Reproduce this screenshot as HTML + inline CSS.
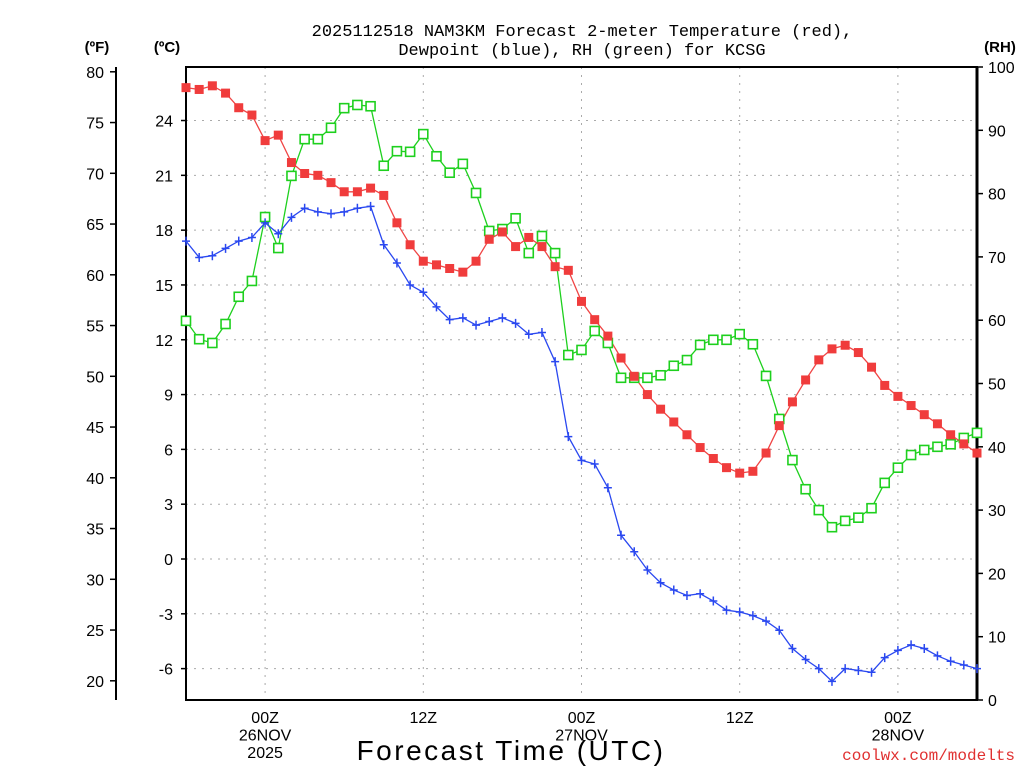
<!DOCTYPE html>
<html><head><meta charset="utf-8"><style>
body{margin:0;background:#fff;width:1024px;height:768px;overflow:hidden}
svg{display:block;font-family:"Liberation Sans",sans-serif}
</style></head><body>
<svg id="chart" width="1024" height="768" viewBox="0 0 1024 768">
<text x="582" y="36" font-size="17" text-anchor="middle" font-family="Liberation Mono, monospace">2025112518 NAM3KM Forecast 2-meter Temperature (red),</text>
<text x="582" y="55" font-size="17" text-anchor="middle" font-family="Liberation Mono, monospace">Dewpoint (blue), RH (green) for KCSG</text>
<text x="97" y="52" font-size="15" font-weight="bold" text-anchor="middle">(ºF)</text>
<text x="167" y="52" font-size="15" font-weight="bold" text-anchor="middle">(ºC)</text>
<text x="1000" y="52" font-size="15" font-weight="bold" text-anchor="middle">(RH)</text>
<g id="grid"></g>
<g id="axes"></g>
<g id="series"></g>
<text x="511" y="760" font-size="28" text-anchor="middle" letter-spacing="2.5">Forecast Time (UTC)</text>
<text x="1015" y="760" font-size="16" text-anchor="end" fill="#e03030" font-family="Liberation Mono, monospace">coolwx.com/modelts</text>
</svg>
<script>
const tempC=[25.8,25.7,25.9,25.5,24.7,24.3,22.9,23.2,21.7,21.1,21.0,20.6,20.1,20.1,20.3,19.9,18.4,17.2,16.3,16.1,15.9,15.7,16.3,17.5,17.9,17.1,17.6,17.1,16.0,15.8,14.1,13.1,12.2,11.0,10.0,9.0,8.2,7.5,6.8,6.1,5.5,5.0,4.7,4.8,5.8,7.3,8.6,9.8,10.9,11.5,11.7,11.3,10.5,9.5,8.9,8.4,7.9,7.4,6.8,6.3,5.8];
const dewC=[17.4,16.5,16.6,17.0,17.4,17.6,18.4,17.8,18.7,19.2,19.0,18.9,19.0,19.2,19.3,17.2,16.2,15.0,14.6,13.8,13.1,13.2,12.8,13.0,13.2,12.9,12.3,12.4,10.8,6.7,5.4,5.2,3.9,1.3,0.4,-0.6,-1.3,-1.7,-2.0,-1.9,-2.3,-2.8,-2.9,-3.1,-3.4,-3.9,-4.9,-5.5,-6.0,-6.7,-6.0,-6.1,-6.2,-5.4,-5.0,-4.7,-4.9,-5.3,-5.6,-5.8,-6.0];
const rh=[59.9,57.0,56.4,59.4,63.7,66.2,76.3,71.4,82.8,88.6,88.6,90.4,93.5,94.0,93.8,84.4,86.7,86.6,89.4,85.9,83.3,84.7,80.1,74.1,74.4,76.1,70.6,73.3,70.6,54.5,55.3,58.3,56.4,50.9,50.9,50.9,51.3,52.8,53.7,56.1,56.9,56.9,57.8,56.2,51.2,44.4,37.9,33.3,30.0,27.3,28.3,28.8,30.3,34.3,36.7,38.7,39.5,40.0,40.4,41.4,42.2];
const celsiusTicks=[-6,-3,0,3,6,9,12,15,18,21,24];
const fahrTicks=[20,25,30,35,40,45,50,55,60,65,70,75,80];
const rhTicks=[0,10,20,30,40,50,60,70,80,90,100];
const timeTickHours=[6,18,30,42,54];
const timeTickLabels=[["00Z","26NOV","2025"],["12Z"],["00Z","27NOV"],["12Z"],["00Z","28NOV"]];

const NS="http://www.w3.org/2000/svg";
const L=186,R=977,T=67,B=700;
const xH=h=>L+h*(R-L)/60;
const yC=c=>559-c*18.27;
const yF=f=>yC((f-32)/1.8);
const yR=r=>B-r*(B-T)/100;
function mk(tag,attrs,parent){const e=document.createElementNS(NS,tag);for(const k in attrs)e.setAttribute(k,attrs[k]);parent.appendChild(e);return e;}
const grid=document.getElementById('grid'),axes=document.getElementById('axes'),ser=document.getElementById('series');
celsiusTicks.forEach(c=>{const y=yC(c);
 const g=mk('line',{x1:L,x2:R,y1:y,y2:y,stroke:'#aaa','stroke-dasharray':'2 6'},grid);
 
 
 const tk=mk('line',{x1:L-5,x2:L,y1:y,y2:y,stroke:'#000','stroke-width':1.5},axes);
 
 
 const t=mk('text',{x:173,y:y+6,'font-size':16,'text-anchor':'end'},axes);t.textContent=c;
 
 
});
timeTickHours.forEach((h,i)=>{const x=xH(h);
 const g=mk('line',{x1:x,x2:x,y1:T,y2:B,stroke:'#aaa','stroke-dasharray':'2 6'},grid);
 
 
 timeTickLabels[i].forEach((s,j)=>{const t=mk('text',{x:x,y:723+j*17.5,'font-size':16,'text-anchor':'middle'},axes);t.textContent=s;
  
  });
});
fahrTicks.forEach(f=>{const y=yF(f);
 const tk=mk('line',{x1:110,x2:116,y1:y,y2:y,stroke:'#000','stroke-width':1.5},axes);
 
 
 const t=mk('text',{x:104,y:y+6,'font-size':16,'text-anchor':'end'},axes);t.textContent=f;
 
 
});
rhTicks.forEach(r=>{const y=yR(r);
 const tk=mk('line',{x1:R,x2:R+6,y1:y,y2:y,stroke:'#000','stroke-width':1.5},axes);
 
 
 const t=mk('text',{x:988,y:y+6,'font-size':16},axes);t.textContent=r;
 
 
});
const fa=mk('line',{x1:116,x2:116,y1:T,y2:B,stroke:'#000','stroke-width':2},axes);


const frame=mk('path',{d:`M${L},${T}H${R}V${B}H${L}Z`,fill:'none',stroke:'#000','stroke-width':2},axes);


const rax=mk('line',{x1:R,x2:R,y1:T,y2:B,stroke:'#000','stroke-width':3},axes);



function drawLine(vals,yf,color,name){
 const pts=vals.map((v,i)=>xH(i).toFixed(1)+','+yf(v).toFixed(1)).join(' ');
 const p=mk('polyline',{points:pts,fill:'none',stroke:color,'stroke-width':1.3},ser);
 
 
}
drawLine(rh,yR,'#1ed01e','rh');
drawLine(tempC,yC,'#f04545','temperature');
drawLine(dewC,yC,'#2a48f0','dewpoint');
rh.forEach((v,i)=>{const x=xH(i),y=yR(v);
 const m=mk('rect',{x:x-4.5,y:y-4.5,width:9,height:9,fill:'#fff',stroke:'#1ed01e','stroke-width':1.6},ser);
 
 });
tempC.forEach((v,i)=>{const x=xH(i),y=yC(v);
 const m=mk('rect',{x:x-4.5,y:y-4.5,width:9,height:9,fill:'#f03c3c'},ser);
 
 });
dewC.forEach((v,i)=>{const x=xH(i),y=yC(v);
 const m=mk('path',{d:`M${x-4},${y}H${x+4}M${x},${y-4.5}V${y+4.5}`,stroke:'#2a48f0','stroke-width':1.5},ser);
 
 });
</script>
</body></html>
